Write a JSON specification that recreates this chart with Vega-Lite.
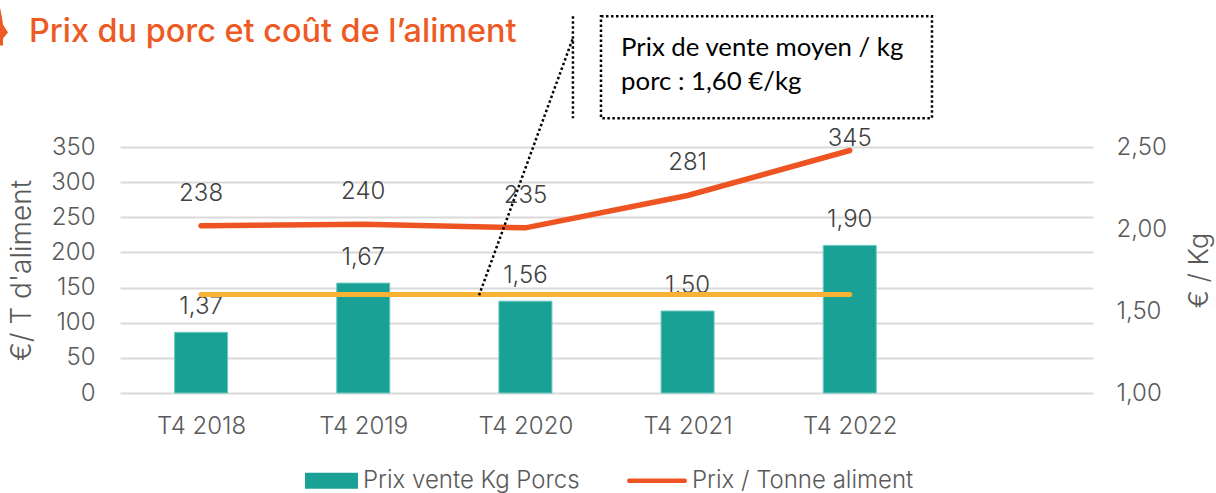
{
"$schema":"https://vega.github.io/schema/vega-lite/v6.json",
"width":973,"height":246,
"autosize":{"type":"none"},
"padding":{"left":120,"top":147,"right":123,"bottom":100},
"background":"white",
"config":{"view":{"stroke":null},"font":"Inter","locale":{"number":{"decimal":",","thousands":" ","grouping":[3],"currency":["","€"]}}},
"title":{"text":"Prix du porc et coût de l’aliment","anchor":"start","frame":"group","dx":-91,"offset":-41,"color":"#EE5A24","font":"Inter","fontSize":32.4,"fontWeight":500},
"data":{"values":[
{"periode":"T4 2018","prix_kg":1.37,"prix_tonne":238,"prix_moyen":1.6},
{"periode":"T4 2019","prix_kg":1.67,"prix_tonne":240,"prix_moyen":1.6},
{"periode":"T4 2020","prix_kg":1.56,"prix_tonne":235,"prix_moyen":1.6},
{"periode":"T4 2021","prix_kg":1.50,"prix_tonne":281,"prix_moyen":1.6},
{"periode":"T4 2022","prix_kg":1.90,"prix_tonne":345,"prix_moyen":1.6}
]},
"resolve":{"scale":{"x":"independent","y":"independent"},"axis":{"x":"independent","y":"independent"}},
"layer":[
{"encoding":{
 "x":{"field":"periode","type":"nominal","sort":null,"scale":{"domain":["T4 2018","T4 2019","T4 2020","T4 2021","T4 2022"," "],"paddingInner":0,"paddingOuter":0},"axis":null},
 "y":{"field":"prix_kg","type":"quantitative","scale":{"domain":[1,2.5],"zero":false,"nice":false},
   "axis":{"orient":"right","values":[1,1.5,2,2.5],"format":".2f","grid":false,"ticks":false,"domain":false,"labelFont":"Inter","labelFontWeight":300,"labelFontSize":24,"labelColor":"#595959","labelPadding":23,"title":"€ / Kg","titleFont":"Inter","titleFontWeight":300,"titleFontSize":27,"titleColor":"#595959","titleAngle":270,"titlePadding":47}}},
 "layer":[
  {"mark":{"type":"bar","width":{"band":0.327},"stroke":"#6CC8BE","strokeWidth":1},
   "encoding":{"y2":{"datum":1},"color":{"datum":"Prix vente Kg Porcs","type":"nominal","scale":{"domain":["Prix vente Kg Porcs","Prix / Tonne aliment"],"range":["#19A196","#EE5422"]},
     "legend":{"title":null,"orient":"none","direction":"horizontal","columns":2,"legendX":185,"legendY":307,"symbolSize":2809,"symbolType":"M-1,-0.3H1V0.3H-1Z","symbolStrokeWidth":0,"labelFont":"Inter","labelFontWeight":300,"labelFontSize":24,"labelColor":"#595959","labelOffset":5,"columnPadding":47,"labelLimit":400,
       "encoding":{"symbols":{"shape":{"value":{"signal":"datum.value==='Prix vente Kg Porcs'?'M-1,-0.3H1V0.3H-1Z':'M-1.2,-0.085H0.92Q1,-0.085 1,0Q1,0.085 0.92,0.085H-1.2Q-1.26,0.085 -1.26,0Q-1.26,-0.085 -1.2,-0.085Z'"}}}}}}}},
  {"mark":{"type":"text","dy":-25.5,"font":"Inter","fontWeight":300,"fontSize":24,"color":"#404040"},
   "encoding":{"text":{"field":"prix_kg","type":"quantitative","format":".2f"}}},
  {"mark":{"type":"line","color":"#F9B233","strokeWidth":5,"strokeCap":"round"},
   "encoding":{"y":{"field":"prix_moyen","type":"quantitative"}}}
 ]},
{"encoding":{
 "x":{"field":"periode","type":"nominal","sort":null,"scale":{"domain":["T4 2018","T4 2019","T4 2020","T4 2021","T4 2022"," "],"paddingInner":0,"paddingOuter":0},
   "axis":{"title":null,"ticks":false,"domain":false,"labelAngle":0,"labelFont":"Inter","labelFontWeight":300,"labelFontSize":24,"labelColor":"#595959","labelPadding":21}},
 "y":{"field":"prix_tonne","type":"quantitative","scale":{"domain":[0,350],"nice":false},
   "axis":{"orient":"left","values":[0,50,100,150,200,250,300,350],"grid":true,"gridColor":"#D9D9D9","gridWidth":2,"ticks":false,"domain":false,"labelFont":"Inter","labelFontWeight":300,"labelFontSize":24,"labelColor":"#595959","labelPadding":25,"title":"€/ T d'aliment","titleFont":"Inter","titleFontWeight":300,"titleFontSize":28,"titleColor":"#595959","titlePadding":14}}},
 "layer":[
  {"mark":{"type":"line","strokeWidth":5.5,"strokeCap":"round"},
   "encoding":{"color":{"datum":"Prix / Tonne aliment","type":"nominal"}}},
  {"transform":[{"filter":"datum.prix_tonne<300"}],"mark":{"type":"text","dy":-32,"font":"Inter","fontWeight":300,"fontSize":24,"color":"#404040"},
   "encoding":{"text":{"field":"prix_tonne","type":"quantitative"}}},
  {"transform":[{"filter":"datum.prix_tonne>=300"}],"mark":{"type":"text","dy":-12,"font":"Inter","fontWeight":300,"fontSize":24,"color":"#404040"},
   "encoding":{"text":{"field":"prix_tonne","type":"quantitative"}}}
 ]},
{"data":{"values":[{"note":"annotation"}]},
 "layer":[
  {"mark":{"type":"rect","fill":"white","fillOpacity":0,"stroke":"#000000","strokeWidth":2.5,"strokeDash":[2.5,2.5]},
   "encoding":{"x":{"datum":2.966,"type":"quantitative","scale":{"domain":[0,6],"nice":false,"zero":false},"axis":null},"x2":{"datum":5.007},
     "y":{"datum":536,"type":"quantitative","scale":{"domain":[0,350],"nice":false},"axis":null},"y2":{"datum":391}}},
  {"mark":{"type":"rule","stroke":"#000000","strokeWidth":2.5,"strokeDash":[2.5,2.5]},
   "encoding":{"x":{"datum":2.793,"type":"quantitative"},"y":{"datum":536,"type":"quantitative"},"y2":{"datum":391}}},
  {"mark":{"type":"rule","stroke":"#000000","strokeWidth":2.5,"strokeDash":[2.5,2.5]},
   "encoding":{"x":{"datum":2.214,"type":"quantitative"},"x2":{"datum":2.793},"y":{"datum":139,"type":"quantitative"},"y2":{"datum":505}}},
  {"mark":{"type":"text","align":"left","baseline":"middle","font":"Lato","fontSize":25.8,"lineHeight":34,"color":"#000000","text":["Prix de vente moyen / kg","porc : 1,60 €/kg"]},
   "encoding":{"x":{"datum":3.09,"type":"quantitative"},"y":{"datum":491,"type":"quantitative"}}},
  {"mark":{"type":"point","filled":true,"color":"#EE5A24","opacity":1,"size":400,"shape":"M0,-2.5L0.2,-1.5L0.3,-0.8L0.8,0L0.3,0.6L0.3,1.3L0,1.3Z"},
   "encoding":{"x":{"datum":-0.74,"type":"quantitative"},"y":{"datum":513,"type":"quantitative"}}}
 ]}
]
}
